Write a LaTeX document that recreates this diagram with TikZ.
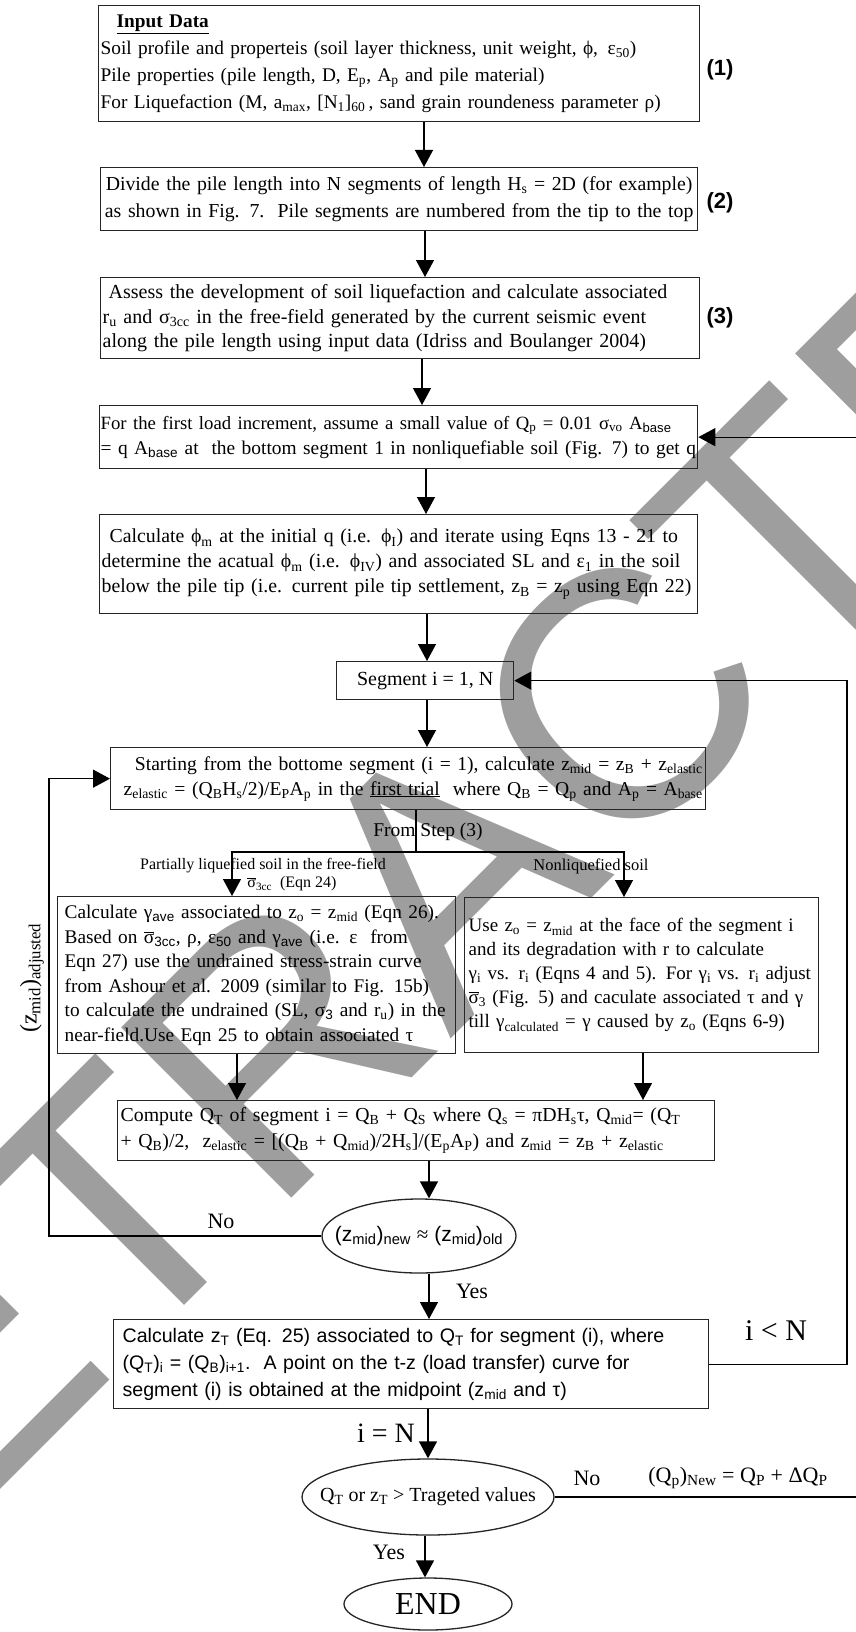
\documentclass[tikz,border=0pt]{standalone}
\usepackage{fontspec}
\setmainfont{Liberation Serif}
\setsansfont{Liberation Sans}
\usetikzlibrary{arrows.meta,shapes.geometric}
\newcommand{\sbs}[1]{\textsubscript{#1}}
\newcommand{\obar}[1]{\ensuremath{\overline{\mbox{#1}}}}
\begin{document}
\begin{tikzpicture}[x=1pt,y=-1pt,
  box/.style={draw=black!85, line width=1.3pt, inner ysep=0pt, anchor=north west},
  ell/.style={draw=black!85, line width=1.3pt, ellipse, inner sep=0pt},
  arr/.style={draw=black, line width=1.3pt, -{Triangle[width=18pt,length=17pt]}},
  ln/.style={draw=black, line width=1.3pt},
  lab/.style={inner sep=0pt},
  num/.style={inner sep=0pt, font=\sffamily\bfseries\fontsize{22}{26}\selectfont}]
\useasboundingbox (0,0) rectangle (855,1632);
\fill[white] (0,0) rectangle (855,1632);
\begin{scope}
\clip (0,0) rectangle (855,1632);
\node[inner sep=0pt, rotate=45, text=black!38, font=\sffamily\fontsize{350}{350}\selectfont] (wm) at (448,872) {RETRACTED};
\end{scope}

% boxes
\node[box, minimum height=116pt, text width=597pt, align=left, inner xsep=2pt,
  font=\fontsize{19.3}{27}\selectfont] (b1) at (98,5) {%
\mbox{\hspace*{16pt}\textbf{\underline{Input Data}}}\\
\mbox{Soil profile and properteis (soil layer thickness, unit weight, ϕ, \,ε\sbs{50})}\\
\mbox{Pile properties (pile length, D, E\sbs{p}, A\sbs{p} and pile material)}\\
\mbox{For Liquefaction (M, a\sbs{max}, [N\sbs{1}]\sbs{60}\,, sand grain roundeness parameter ρ)}};
\node[num] (n1) at (720,70) {(1)};

\node[box, minimum height=63pt, text width=593pt, align=center, inner xsep=2pt,
  font=\fontsize{19.8}{27}\selectfont] (b2) at (100,167) {%
\mbox{Divide the pile length into N segments of length H\sbs{s} = 2D (for example)}\\
\mbox{as shown in Fig. 7.\ \ Pile segments are numbered from the tip to the top}};
\node[num] (n2) at (720,203) {(2)};

\node[box, minimum height=81pt, text width=595pt, align=left, inner xsep=2pt,
  font=\fontsize{20}{24.5}\selectfont] (b3) at (100,277) {%
\mbox{\hspace*{6pt}Assess the development of soil liquefaction and calculate associated}\\
\mbox{r\sbs{u} and σ\sbs{3cc} in the free-field generated by the current seismic event}\\
\mbox{along the pile length using input data (Idriss and Boulanger 2004)}};
\node[num] (n3) at (720,318) {(3)};

\node[box, minimum height=63pt, text width=596pt, align=left, inner xsep=1pt,
  font=\fontsize{19.4}{25}\selectfont] (b4) at (99,405) {%
\mbox{\fontsize{18.7}{25}\selectfont For the first load increment, assume a small value of Q\sbs{p} = 0.01 σ\sbs{vo} A\sbs{\sffamily base}}\\
\mbox{= q A\sbs{\sffamily base} at\ \ the bottom segment 1 in nonliquefiable soil (Fig. 7) to get q}};

\node[box, minimum height=99pt, text width=594pt, align=left, inner xsep=2pt,
  font=\fontsize{19.8}{25}\selectfont] (b5) at (99,514) {%
\mbox{\hspace*{8pt}Calculate ϕ\sbs{m} at the initial q (i.e. ϕ\sbs{I}) and iterate using Eqns 13 - 21 to}\\
\mbox{determine the acatual ϕ\sbs{m} (i.e. ϕ\sbs{IV}) and associated SL and ε\sbs{1} in the soil}\\
\mbox{below the pile tip (i.e. current pile tip settlement, z\sbs{B} = z\sbs{p} using Eqn 22)}};

\node[box, minimum width=177pt, minimum height=38pt, align=center, inner xsep=2pt,
  font=\fontsize{20}{25}\selectfont] (seg) at (336,661) {Segment i = 1, N};

\node[box, minimum height=62pt, text width=589pt, align=right, inner xsep=3pt,
  font=\fontsize{19.6}{25}\selectfont] (b6) at (110,747) {%
\mbox{Starting from the bottome segment (i = 1), calculate z\sbs{mid} = z\sbs{B} + z\sbs{elastic}}\\
\mbox{z\sbs{elastic} = (Q\sbs{B}H\sbs{s}/2)/E\sbs{P}A\sbs{p} in the \underline{first trial}\ \ where Q\sbs{B} = Q\sbs{p} and A\sbs{p} = A\sbs{base}}};

\node[box, minimum height=157pt, text width=384pt, align=left, inner xsep=7pt,
  font=\fontsize{19.3}{24.5}\selectfont] (b7) at (57,896) {%
\mbox{Calculate γ\sbs{\sffamily ave} associated to z\sbs{o} = z\sbs{mid} (Eqn 26).}\\
\mbox{Based on \obar{σ}\sbs{\sffamily 3cc}, ρ, ε\sbs{\sffamily 50} and γ\sbs{\sffamily ave} (i.e. ε\ \ from}\\
\mbox{Eqn 27) use the undrained stress-strain curve}\\
\mbox{from Ashour et al. 2009 (similar to Fig. 15b)}\\
\mbox{to calculate the undrained (SL, σ\sbs{\sffamily 3} and r\sbs{u}) in the}\\
\mbox{near-field.Use Eqn 25 to obtain associated τ}};

\node[box, minimum height=155pt, text width=346pt, align=left, inner xsep=4pt,
  font=\fontsize{19}{24}\selectfont] (b8) at (464,897) {%
\mbox{Use z\sbs{o} = z\sbs{mid} at the face of the segment i}\\
\mbox{and its degradation with r to calculate}\\
\mbox{γ\sbs{i} vs. r\sbs{i} (Eqns 4 and 5). For γ\sbs{i} vs. r\sbs{i} adjust}\\
\mbox{\obar{σ}\sbs{3} (Fig. 5) and caculate associated τ and γ}\\
\mbox{till γ\sbs{calculated} = γ caused by z\sbs{o} (Eqns 6-9)}};

\node[box, minimum height=60pt, text width=591pt, align=left, inner xsep=3pt,
  font=\fontsize{19.8}{26}\selectfont] (b9) at (117,1100) {%
\mbox{Compute Q\sbs{T} of segment i = Q\sbs{B} + Q\sbs{S} where Q\sbs{s} = πDH\sbs{s}τ, Q\sbs{mid}= (Q\sbs{T}}\\
\mbox{+ Q\sbs{B})/2,\ \ z\sbs{elastic} = [(Q\sbs{B} + Q\sbs{mid})/2H\sbs{s}]/(E\sbs{p}A\sbs{P}) and z\sbs{mid} = z\sbs{B} + z\sbs{elastic}}};

\node[box, minimum height=89pt, text width=577pt, align=left, inner xsep=9pt,
  font=\sffamily\fontsize{19.6}{27}\selectfont] (b10) at (113,1319) {%
\mbox{Calculate z\sbs{T} (Eq. 25) associated to Q\sbs{T} for segment (i), where}\\
\mbox{(Q\sbs{T})\sbs{i} = (Q\sbs{B})\sbs{i+1}.\ \ A point on the t-z (load transfer) curve for}\\
\mbox{segment (i) is obtained at the midpoint (z\sbs{mid} and τ)}};

% ellipses
\node[ell, minimum width=194pt, minimum height=74pt] (e1) at (419,1236) {};
\node[lab, font=\sffamily\fontsize{21}{25}\selectfont] (e1t) at (e1) {(z\sbs{mid})\sbs{new} {\rmfamily ≈} (z\sbs{mid})\sbs{old}};
\node[ell, minimum width=252pt, minimum height=76pt] (e2) at (428,1497) {};
\node[lab, font=\fontsize{20}{24}\selectfont] (e2t) at (e2) {Q\sbs{T} or z\sbs{T} > Trageted values};
\node[ell, minimum width=168pt, minimum height=52pt] (e3) at (428,1604) {};
\node[lab, font=\fontsize{32}{36}\selectfont] (e3t) at (e3) {END};

% connector x positions
\coordinate (xa) at (424,0);
\coordinate (xb) at (425,0);
\coordinate (xc) at (422,0);
\coordinate (xd) at (426,0);
\coordinate (xe) at (427,0);
\coordinate (xf) at (429,0);
\coordinate (xg) at (428,0);
\coordinate (xh) at (425,0);
\coordinate (x7) at (237,0);
\coordinate (x8) at (643,0);
\coordinate (xl) at (49,0);
\coordinate (xr) at (847,0);
\coordinate (xo) at (858,0);
\coordinate (sp) at (416,852);
\coordinate (spl) at (232,852);
\coordinate (spr) at (624,852);

\draw[arr] (b1.south -| xa) -- (b2.north -| xa);
\draw[arr] (b2.south -| xb) -- (b3.north -| xb);
\draw[arr] (b3.south -| xc) -- (b4.north -| xc);
\draw[arr] (b4.south -| xd) -- (b5.north -| xd);
\draw[arr] (b5.south -| xe) -- (seg.north -| xe);
\draw[arr] (seg.south -| xe) -- (b6.north -| xe);
\draw[ln] (b6.south -| sp) -- (sp);
\draw[arr] (sp) -- (spl) -- (spl |- b7.north);
\draw[arr] (sp) -- (spr) -- (spr |- b8.north);
\draw[arr] (b7.south -| x7) -- (b9.north -| x7);
\draw[arr] (b8.south -| x8) -- (b9.north -| x8);
\draw[arr] (b9.south -| xf) -- (e1.north -| xf);
\draw[arr] (e1.south -| xf) -- (b10.north -| xf);
\draw[arr] (b10.south -| xg) -- (e2.north -| xg);
\draw[arr] (e2.south -| xh) -- (e3.north -| xh);
\draw[arr] (e1.west) -- (e1.west -| xl) -- (xl |- b6.west) -- (b6.west);
\draw[arr] (b10.east) -- (b10.east -| xr) -- (xr |- seg.east) -- (seg.east);
\draw[arr] (e2.east) -- (e2.east -| xo) -- (xo |- b4.east) -- (b4.east);

% labels
\node[lab, font=\fontsize{19.5}{24}\selectfont] (lfs) at (428,832) {From Step (3)};
\node[lab, font=\fontsize{16}{19}\selectfont] (lpl) at (263,866) {Partially liquefied soil in the free-field};
\node[lab, font=\fontsize{16}{19}\selectfont] (lsg) at (292,884) {\obar{σ}\sbs{3cc}\ \ (Eqn 24)};
\node[lab, font=\fontsize{16.5}{20}\selectfont] (lnl) at (591,866) {Nonliquefied soil};
\node[lab, rotate=90, font=\fontsize{24}{28}\selectfont] (ladj) at (32,978) {(z\sbs{mid})\sbs{adjusted}};
\node[lab, font=\fontsize{22}{26}\selectfont] (lno1) at (221,1221) {No};
\node[lab, font=\fontsize{22}{26}\selectfont] (lye1) at (472,1291) {Yes};
\node[lab, font=\fontsize{30}{34}\selectfont] (llt) at (776,1331) {i < N};
\node[lab, font=\fontsize{28}{32}\selectfont] (leq) at (386,1433) {i = N};
\node[lab, font=\fontsize{22}{26}\selectfont] (lno2) at (587,1478) {No};
\node[lab, font=\fontsize{22}{26}\selectfont] (lqp) at (738,1478) {(Q\sbs{p})\sbs{New} = Q\sbs{P} + ΔQ\sbs{P}};
\node[lab, font=\fontsize{22}{26}\selectfont] (lye2) at (389,1552) {Yes};
\end{tikzpicture}
\end{document}
